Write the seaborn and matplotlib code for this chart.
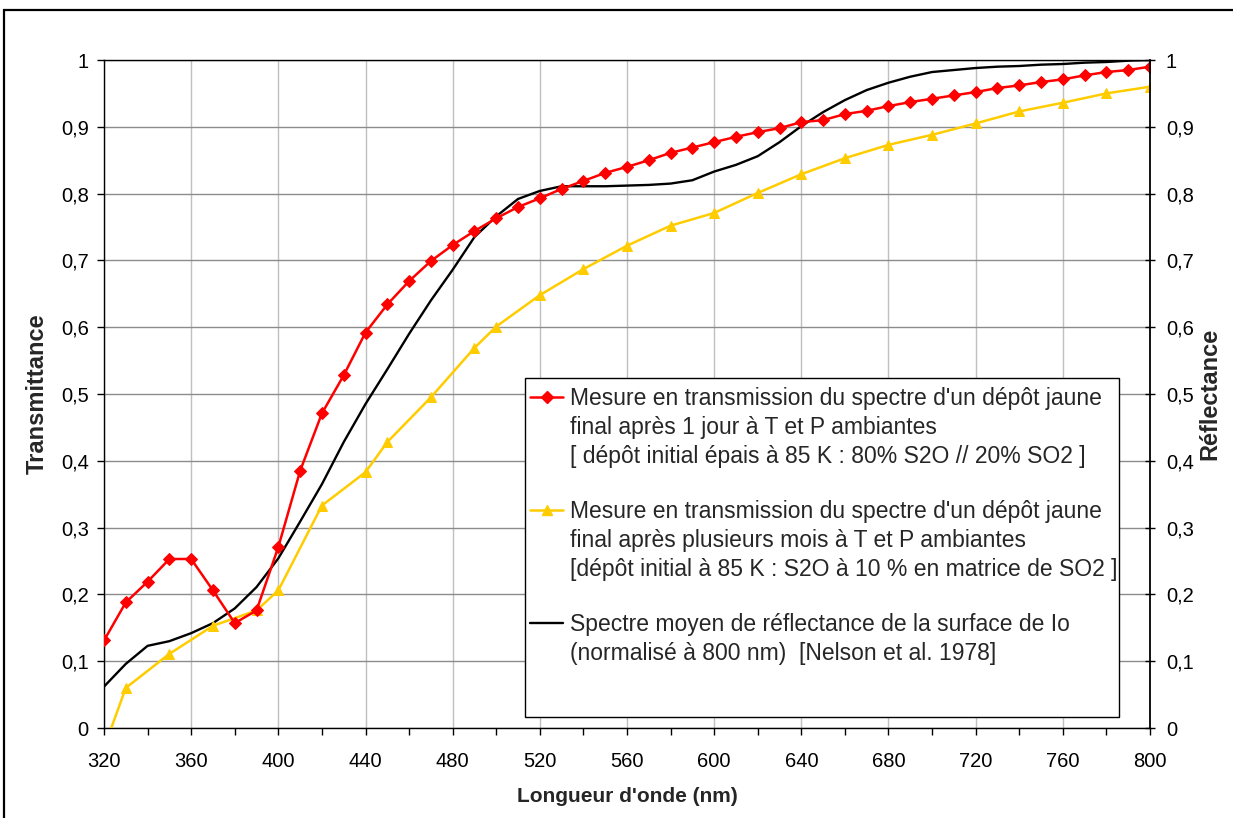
import numpy as np
import pandas as pd
import matplotlib.pyplot as plt
import matplotlib.ticker as mticker
from matplotlib.lines import Line2D
from matplotlib.patches import Rectangle
import seaborn as sns

# Transmission du dépôt jaune après 1 jour (points tous les 10 nm)
wl_jour = [320, 330, 340, 350, 360, 370, 380, 390, 400, 410, 420, 430, 440, 450, 460,
           470, 480, 490, 500, 510, 520, 530, 540, 550, 560, 570, 580, 590, 600, 610,
           620, 630, 640, 650, 660, 670, 680, 690, 700, 710, 720, 730, 740, 750, 760,
           770, 780, 790, 800]
t_jour = [0.131, 0.188, 0.219, 0.253, 0.253, 0.206, 0.157, 0.176, 0.271, 0.385, 0.471,
          0.528, 0.592, 0.634, 0.669, 0.699, 0.723, 0.744, 0.763, 0.780, 0.793, 0.807,
          0.819, 0.831, 0.840, 0.850, 0.861, 0.869, 0.877, 0.885, 0.892, 0.898, 0.907,
          0.910, 0.919, 0.924, 0.931, 0.937, 0.942, 0.947, 0.952, 0.958, 0.962, 0.967,
          0.971, 0.977, 0.982, 0.985, 0.990]

# Transmission du dépôt jaune après plusieurs mois
wl_mois = [320, 330, 350, 370, 390, 400, 420, 440, 450, 470, 490, 500, 520, 540, 560,
           580, 600, 620, 640, 660, 680, 700, 720, 740, 760, 780, 800]
t_mois = [-0.03, 0.060, 0.111, 0.153, 0.176, 0.206, 0.333, 0.383, 0.428, 0.495, 0.569,
          0.601, 0.648, 0.687, 0.722, 0.752, 0.771, 0.801, 0.829, 0.853, 0.873, 0.888,
          0.905, 0.923, 0.936, 0.950, 0.960]

# Réflectance moyenne de Io (Nelson et al. 1978), normalisée à 800 nm
wl_io = [320, 330, 340, 350, 360, 370, 380, 390, 400, 410, 420, 430, 440, 450, 460,
         470, 480, 490, 500, 510, 520, 530, 540, 550, 560, 570, 580, 590, 600, 610,
         620, 630, 640, 650, 660, 670, 680, 690, 700, 710, 720, 730, 740, 750, 760,
         770, 780, 790, 800]
r_io = [0.062, 0.096, 0.123, 0.130, 0.142, 0.157, 0.179, 0.211, 0.254, 0.309, 0.365,
        0.428, 0.485, 0.537, 0.590, 0.640, 0.686, 0.735, 0.766, 0.792, 0.804, 0.811,
        0.811, 0.811, 0.812, 0.813, 0.815, 0.820, 0.833, 0.843, 0.856, 0.877, 0.901,
        0.922, 0.940, 0.955, 0.966, 0.975, 0.982, 0.985, 0.988, 0.990, 0.991, 0.993,
        0.994, 0.996, 0.997, 0.999, 1.000]

labels_jour = ["Mesure en transmission du spectre d'un dépôt jaune",
               "final après 1 jour à T et P ambiantes",
               "[ dépôt initial épais à 85 K : 80% S2O // 20% SO2 ]"]
labels_mois = ["Mesure en transmission du spectre d'un dépôt jaune",
               "final après plusieurs mois à T et P ambiantes",
               "[dépôt initial à 85 K : S2O à 10 % en matrice de SO2 ]"]
labels_io = ["Spectre moyen de réflectance de la surface de Io",
             "(normalisé à 800 nm)  [Nelson et al. 1978]"]

ROUGE = '#FF0000'
JAUNE = '#FFCC00'

sns.set_style('white')
plt.rcParams['font.family'] = ['Liberation Sans', 'DejaVu Sans']

fig = plt.figure(figsize=(12.33, 8.18), dpi=100)
ax = fig.add_axes([0.08435, 0.11002, 0.84833, 0.81663])

df_jour = pd.DataFrame({'wl': wl_jour, 'val': t_jour})
df_mois = pd.DataFrame({'wl': wl_mois, 'val': t_mois})
df_io = pd.DataFrame({'wl': wl_io, 'val': r_io})

sns.lineplot(data=df_io, x='wl', y='val', ax=ax, color='black', linewidth=1.7, zorder=3)
sns.lineplot(data=df_mois, x='wl', y='val', ax=ax, color=JAUNE, linewidth=1.8,
             marker='^', markersize=7.5, markeredgecolor=JAUNE, markerfacecolor=JAUNE, zorder=3)
sns.lineplot(data=df_jour, x='wl', y='val', ax=ax, color=ROUGE, linewidth=1.8,
             marker='D', markersize=5.8, markeredgecolor=ROUGE, markerfacecolor=ROUGE, zorder=3)

ax.set_xlim(320, 800)
ax.set_ylim(0, 1)
ax.xaxis.set_major_locator(mticker.MultipleLocator(40))
ax.xaxis.set_minor_locator(mticker.MultipleLocator(20))
ax.yaxis.set_major_locator(mticker.MultipleLocator(0.1))


def virgule(v, pos):
    if abs(v) < 1e-9:
        return '0'
    if abs(v - 1) < 1e-9:
        return '1'
    return f'{v:.1f}'.replace('.', ',')


ax.yaxis.set_major_formatter(mticker.FuncFormatter(virgule))

ax.grid(False)
ax.grid(True, axis='x', which='major', color='#C0C0C0', linewidth=1)
ax.grid(True, axis='y', which='major', color='#8C8C8C', linewidth=1)
ax.set_axisbelow(True)

for side in ['left', 'top', 'bottom']:
    ax.spines[side].set_color('black')
    ax.spines[side].set_linewidth(1)
ax.spines['right'].set_visible(False)

ax.tick_params(axis='x', which='both', direction='out', length=5, width=1,
               colors='black', labelsize=14.5, pad=12, bottom=True)
ax.tick_params(axis='y', which='major', direction='out', length=5, width=1,
               colors='black', labelsize=14.5, pad=6, left=True)

ax.set_xlabel("Longueur d'onde (nm)", fontsize=15, fontweight='bold')
ax.set_ylabel('Transmittance', fontsize=17, fontweight='bold')
ax.xaxis.set_label_coords(0.5, -0.088)
ax.yaxis.set_label_coords(-0.0526, 0.5)

ax2 = ax.twinx()
ax2.set_ylim(0, 1)
ax2.yaxis.set_major_locator(mticker.MultipleLocator(0.1))
ax2.yaxis.set_major_formatter(mticker.FuncFormatter(virgule))
ax2.tick_params(axis='y', direction='inout', length=7, width=1, colors='black',
                labelsize=14.5, pad=8, right=True)
for side in ['left', 'top', 'bottom']:
    ax2.spines[side].set_visible(False)
ax2.spines['right'].set_color('black')
ax2.spines['right'].set_linewidth(1.3)
ax2.set_ylabel('Réflectance', fontsize=17, fontweight='bold')
ax2.yaxis.set_label_coords(1.046, 0.5)

# cadre de la légende
ax.add_patch(Rectangle((0.4025, 0.0165), 0.5675, 0.5075, transform=ax.transAxes,
                       facecolor='white', edgecolor='black', linewidth=1, zorder=4))

vide = Line2D([], [], color='none')
h_jour = Line2D([], [], color=ROUGE, linewidth=1.8, marker='D', markersize=5.8)
h_mois = Line2D([], [], color=JAUNE, linewidth=1.8, marker='^', markersize=7.5)
h_io = Line2D([], [], color='black', linewidth=1.7)

handles = [h_jour, vide, vide, vide, h_mois, vide, vide, vide, h_io, vide]
texts = labels_jour + [' '] + labels_mois + [' '] + labels_io
leg = ax.legend(handles, texts, loc='upper left', bbox_to_anchor=(0.4073, 0.5105),
                frameon=False, fontsize=16.5, borderpad=0, borderaxespad=0,
                handlelength=1.44, handletextpad=0.3, labelspacing=0.27)
leg.set_zorder(5)
for i in (3, 7):
    leg.get_texts()[i].set_fontsize(8.7)

# cadre extérieur du graphique
fig.add_artist(Rectangle((4 / 1233, -0.2), 1.2, 0.2 + 808 / 818, transform=fig.transFigure,
                         fill=False, edgecolor='black', linewidth=1.6))

fig.savefig('out.png', dpi=100)
